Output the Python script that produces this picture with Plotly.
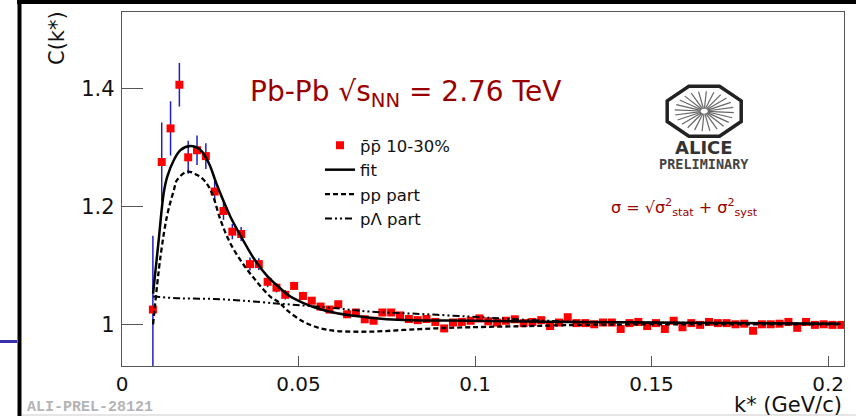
import math
import plotly.graph_objects as go

# ---------------- data ----------------
k_star = [0.00875, 0.01125, 0.01375, 0.01625, 0.01875, 0.02125, 0.02375, 0.02625, 0.02875, 0.03125,
          0.03375, 0.03625, 0.03875, 0.04125, 0.04375, 0.04625, 0.04875, 0.05125, 0.05375, 0.05625,
          0.05875, 0.06125, 0.06375, 0.06625, 0.06875, 0.07125, 0.07375, 0.07625, 0.07875, 0.08125,
          0.08375, 0.08625, 0.08875, 0.09125, 0.09375, 0.09625, 0.09875, 0.10125, 0.10375, 0.10625,
          0.10875, 0.11125, 0.11375, 0.11625, 0.11875, 0.12125, 0.12375, 0.12625, 0.12875, 0.13125,
          0.13375, 0.13625, 0.13875, 0.14125, 0.14375, 0.14625, 0.14875, 0.15125, 0.15375, 0.15625,
          0.15875, 0.16125, 0.16375, 0.16625, 0.16875, 0.17125, 0.17375, 0.17625, 0.17875, 0.18125,
          0.18375, 0.18625, 0.18875, 0.19125, 0.19375, 0.19625, 0.19875, 0.20125, 0.20375]
c_pp = [1.025, 1.275, 1.332, 1.406, 1.283, 1.295, 1.285, 1.225, 1.192, 1.157,
        1.153, 1.102, 1.102, 1.072, 1.062, 1.050, 1.065, 1.048, 1.040, 1.030,
        1.025, 1.034, 1.017, 1.020, 1.0085, 1.006, 1.020, 1.020, 1.015, 1.009,
        1.007, 1.009, 1.004, 0.993, 1.003, 1.004, 1.006, 1.010, 1.005, 1.003,
        1.006, 1.0085, 1.002, 1.004, 1.007, 0.997, 1.003, 1.012, 1.002, 1.002,
        1.000, 1.003, 1.003, 0.992, 1.002, 1.004, 0.997, 1.002, 0.992, 1.006,
        0.995, 1.002, 0.999, 1.004, 1.002, 1.002, 1.000, 1.001, 0.989, 1.000,
        1.000, 1.001, 1.004, 0.994, 1.004, 0.999, 1.000, 0.999, 0.999]
c_err = [0.125, 0.067, 0.046, 0.037, 0.028, 0.025, 0.022, 0.018, 0.015, 0.013,
         0.012, 0.011, 0.010, 0.009, 0.008, 0.008, 0.007, 0.007, 0.006, 0.006,
         0.005, 0.005, 0.005, 0.005, 0.005, 0.005, 0.005, 0.005, 0.005, 0.005,
         0.005, 0.005, 0.005, 0.005, 0.005, 0.005, 0.004, 0.004, 0.004, 0.004,
         0.004, 0.004, 0.004, 0.004, 0.004, 0.004, 0.004, 0.004, 0.004, 0.004,
         0.004, 0.004, 0.004, 0.004, 0.004, 0.004, 0.004, 0.004, 0.004, 0.004,
         0.004, 0.004, 0.004, 0.004, 0.004, 0.004, 0.004, 0.004, 0.004, 0.004,
         0.004, 0.004, 0.004, 0.004, 0.004, 0.004, 0.004, 0.004, 0.004]

fit_x = [0.0088, 0.0104, 0.0118, 0.0128, 0.0147, 0.0166, 0.0194, 0.0222, 0.0246, 0.0269,
         0.0307, 0.0340, 0.0373, 0.0411, 0.0448, 0.0477, 0.0514, 0.0562, 0.0609, 0.0703,
         0.0797, 0.0986, 0.125, 0.15, 0.175, 0.2035]
fit_y = [1.052, 1.143, 1.222, 1.250, 1.2785, 1.2954, 1.302, 1.2954, 1.273, 1.236,
         1.1824, 1.1458, 1.112, 1.082, 1.061, 1.047, 1.036, 1.0254, 1.0186, 1.0112,
         1.0073, 1.006, 1.004, 1.003, 1.002, 1.001]

pp_x = [0.0088, 0.0109, 0.0128, 0.0147, 0.0156, 0.0185, 0.0213, 0.0236, 0.0255, 0.0279,
        0.0307, 0.0345, 0.0382, 0.0420, 0.0448, 0.0467, 0.0514, 0.0562, 0.0609, 0.0703,
        0.0797, 0.0892, 0.0986, 0.115, 0.130, 0.160, 0.2035]
pp_y = [1.000, 1.1146, 1.185, 1.2276, 1.2446, 1.2587, 1.253, 1.2417, 1.222, 1.1768,
        1.137, 1.1005, 1.072, 1.047, 1.0356, 1.0240, 1.0044, 0.9932, 0.9886, 0.9875,
        0.9904, 0.9932, 0.995, 0.997, 0.999, 1.000, 1.000]

pl_x = [0.0088, 0.0166, 0.0260, 0.0354, 0.0429, 0.0467, 0.0609, 0.0703, 0.0844, 0.0986,
        0.110, 0.125, 0.150, 0.175, 0.2035]
pl_y = [1.047, 1.044, 1.043, 1.0395, 1.0356, 1.034, 1.027, 1.0214, 1.0175, 1.013,
        1.009, 1.005, 1.003, 1.002, 1.001]

x_ticks = [0, 0.05, 0.1, 0.15, 0.2]
x_tick_labels = ["0", "0.05", "0.1", "0.15", "0.2"]
y_ticks = [1, 1.2, 1.4]
y_tick_labels = ["1", "1.2", "1.4"]

# ---------------- layout geometry ----------------
W, H = 856, 416
ML, MR, MT, MB = 122, 12, 12, 50
PW, PH = W - ML - MR, H - MT - MB


def px(xp):
    return (xp - ML) / PW


def py(yp):
    return (H - MB - yp) / PH


FONT = "DejaVu Sans"
DARKRED = "#990000"

fig = go.Figure()

fig.add_trace(go.Scatter(
    x=k_star, y=c_pp, mode="markers",
    name="p\u0304p\u0304 10-30%",
    marker=dict(symbol="square", size=8, color="#ff0000", line=dict(width=0)),
    error_y=dict(type="data", array=c_err, color="#2020c0", thickness=1.5, width=0),
))
fig.add_trace(go.Scatter(
    x=fit_x, y=fit_y, mode="lines", name="fit",
    line=dict(color="black", width=2.5, shape="spline", smoothing=1.0),
))
fig.add_trace(go.Scatter(
    x=pp_x, y=pp_y, mode="lines", name="pp part",
    line=dict(color="black", width=2.3, dash="5px,3px", shape="spline", smoothing=1.0),
))
fig.add_trace(go.Scatter(
    x=pl_x, y=pl_y, mode="lines", name="p\u039b part",
    line=dict(color="black", width=2, dash="7px,3px,2px,3px,2px,3px", shape="spline", smoothing=1.0),
))

axis_common = dict(showgrid=False, zeroline=False, showline=True, linecolor="#555",
                   linewidth=1.3, mirror=True, ticks="inside", tickcolor="#555", tickwidth=1.3)

fig.update_xaxes(range=[0, 0.2045], tickvals=x_ticks, ticktext=x_tick_labels, ticklen=10,
                 ticklabelstandoff=0, tickfont=dict(family=FONT, size=20, color="#111"),
                 **axis_common)
fig.update_yaxes(range=[0.9293, 1.5293], tickvals=y_ticks, ticktext=y_tick_labels, ticklen=21,
                 ticklabelstandoff=2, tickfont=dict(family=FONT, size=21, color="#111"),
                 **axis_common)

annotations = [
    dict(text="C(k*)", x=px(57), y=py(38), textangle=-90, font=dict(family=FONT, size=21, color="#111")),
    dict(text="k* (GeV/c)", x=1.0, xanchor="right", y=py(419), yanchor="bottom",
         font=dict(family=FONT, size=21, color="#111")),
    dict(text="Pb-Pb \u221as<sub>NN</sub> = 2.76 TeV", x=px(405), y=py(94),
         font=dict(family=FONT, size=28, color=DARKRED)),
    dict(text="\u03c3 = \u221a\u03c3<sup>2</sup><sub>stat</sub> + \u03c3<sup>2</sup><sub>syst</sub>",
         x=px(684), y=py(207), font=dict(family=FONT, size=16, color=DARKRED)),
    dict(text="<b>ALICE</b>", x=px(704), y=py(147), font=dict(family=FONT, size=18, color="#333")),
    dict(text="<b>PRELIMINARY</b>", x=px(704), y=py(164), font=dict(family="DejaVu Sans Mono", size=13.5, color="#444")),
    dict(text="<b>ALI-PREL-28121</b>", x=px(25), xanchor="left", y=py(408),
         font=dict(family="Liberation Mono", size=15, color="#b4b4b4")),
]
for a in annotations:
    a.setdefault("xref", "paper")
    a.setdefault("yref", "paper")
    a.setdefault("showarrow", False)
    a.setdefault("xanchor", "center")
    a.setdefault("yanchor", "middle")

# ALICE logo (decorative octagon with spokes)
cx, cy, ax_, by_ = 704.2, 111.2, 37, 25
t = 0.4142
octo = [(-t * ax_, -by_), (t * ax_, -by_), (ax_, -t * by_), (ax_, t * by_),
        (t * ax_, by_), (-t * ax_, by_), (-ax_, t * by_), (-ax_, -t * by_)]
path = "M " + " L ".join(f"{px(cx + dx):.5f},{py(cy + dy):.5f}" for dx, dy in octo) + " Z"
shapes = [dict(type="path", path=path, xref="paper", yref="paper",
               line=dict(color="#222", width=3.5))]
for i in range(24):
    ang = math.pi * 2 * i / 24 + 0.07
    r0, r1 = 0.1, 0.8
    shapes.append(dict(type="line", xref="paper", yref="paper",
                       x0=px(cx + r0 * ax_ * math.cos(ang)), y0=py(cy + r0 * by_ * math.sin(ang)),
                       x1=px(cx + r1 * ax_ * math.cos(ang)), y1=py(cy + r1 * by_ * math.sin(ang)),
                       line=dict(color="#666", width=1.2)))

# slide frame remnants
shapes += [
    dict(type="line", xref="paper", yref="paper", x0=px(17), x1=px(856), y0=py(2), y1=py(2),
         line=dict(color="black", width=4)),
    dict(type="line", xref="paper", yref="paper", x0=px(19.5), x1=px(19.5), y0=py(0), y1=py(416),
         line=dict(color="black", width=4)),
    dict(type="line", xref="paper", yref="paper", x0=px(0), x1=px(17), y0=py(341.5), y1=py(341.5),
         line=dict(color="#3a2fb0", width=3)),
    dict(type="line", xref="paper", yref="paper", x0=px(22), x1=px(856), y0=py(415), y1=py(415),
         line=dict(color="#dddddd", width=1.5)),
]

fig.update_layout(
    width=W, height=H, margin=dict(l=ML, r=MR, t=MT, b=MB),
    paper_bgcolor="white", plot_bgcolor="white",
    showlegend=True,
    legend=dict(x=px(320), y=py(128), xanchor="left", yanchor="top",
                bgcolor="rgba(0,0,0,0)", font=dict(family=FONT, size=16.5, color="#111"),
                itemwidth=30, tracegroupgap=0),
    annotations=annotations, shapes=shapes,
)

fig.write_html("out.html")
